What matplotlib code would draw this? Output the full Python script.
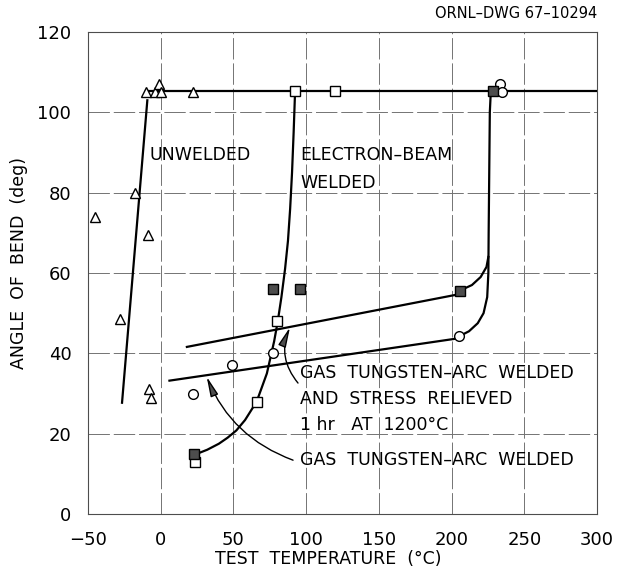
import matplotlib
matplotlib.use("Agg")
import matplotlib.pyplot as plt

plt.rcParams['font.family'] = ['DejaVu Sans']

# measured points
unwelded_t = [-45, -28, -18, -9, -8, -7, -10, -4, -1, 0, 22]
unwelded_a = [74, 48.5, 80, 69.5, 31, 29, 105, 105, 107, 105, 105]

ebw_t = [92, 120, 80, 66, 23.5]
ebw_a = [105.3, 105.3, 48, 28, 13]

gta_t = [22, 49, 77.5, 205, 233, 234.5]
gta_a = [30, 37, 40, 44.2, 107, 105]

gta_sr_t = [77.5, 95.5, 205.5, 23, 228.5]
gta_sr_a = [56, 56, 55.6, 15, 105.3]

# faired curves
top_t = [-10, 300]
top_a = [105.3, 105.3]

unw_fit_t = [-26.6, -9.2]
unw_fit_a = [27.7, 103]

ebw_fit_t = [25, 32, 40, 46, 52, 58, 66, 73, 78, 80.5, 83, 85.5, 87.5, 89, 90.3, 91.4, 92.4]
ebw_fit_a = [15, 16, 17.5, 19, 20.8, 23.4, 28, 35, 43, 48, 54, 61, 68, 76, 85, 95, 105.3]

gta_fit_t = [6, 202]
gta_fit_a = [33.2, 43.6]
gta_knee_t = [205, 212, 218, 222, 224.5, 225.3, 225.5, 226.3, 227]
gta_knee_a = [44.2, 45.5, 47.5, 50, 54, 60, 70, 100, 105.3]

gta_sr_fit_t = [18, 202]
gta_sr_fit_a = [41.6, 54.5]
gta_sr_knee_t = [205.5, 214, 220, 224, 225.3]
gta_sr_knee_a = [55.6, 57, 59, 61.5, 64]

fig = plt.figure(figsize=(6.17, 5.76), dpi=100)
ax = fig.add_axes([88 / 617, 62 / 576, 509 / 617, 482 / 576])

ax.set_xlim(-50, 300)
ax.set_ylim(0, 120)
ax.set_xticks(range(-50, 301, 50))
ax.set_yticks(range(0, 121, 20))
ax.tick_params(length=0, labelsize=13, pad=12)
ax.grid(True, color='0.45', lw=0.7, linestyle=(0, (22, 4)))
ax.set_axisbelow(True)
for s in ax.spines.values():
    s.set_linewidth(0.8)
    s.set_color('0.3')

line_kw = dict(color='black', lw=1.6, zorder=3)
ax.plot(top_t, top_a, **line_kw)
ax.plot(unw_fit_t, unw_fit_a, **line_kw)
ax.plot(ebw_fit_t, ebw_fit_a, **line_kw)
ax.plot(gta_fit_t, gta_fit_a, **line_kw)
ax.plot(gta_knee_t, gta_knee_a, **line_kw)
ax.plot(gta_sr_fit_t, gta_sr_fit_a, **line_kw)
ax.plot(gta_sr_knee_t, gta_sr_knee_a, **line_kw)

ax.plot(unwelded_t, unwelded_a, '^', ms=7.5, mfc='white', mec='black', mew=1.0, ls='none', zorder=4)
ax.plot(ebw_t, ebw_a, 's', ms=6.5, mfc='white', mec='black', mew=1.0, ls='none', zorder=4)
ax.plot(gta_t, gta_a, 'o', ms=7, mfc='white', mec='black', mew=1.0, ls='none', zorder=4)
ax.plot(gta_sr_t, gta_sr_a, 's', ms=6.5, mfc='0.3', mec='black', mew=1.0, ls='none', zorder=5)

lab = dict(fontsize=12.5, ha='left', va='center', zorder=6)
ax.text(-7.4, 89.4, 'UNWELDED', **lab)
ax.text(95.8, 89.5, 'ELECTRON–BEAM', **lab)
ax.text(95.8, 82.5, 'WELDED', **lab)
ax.text(95.8, 35, 'GAS  TUNGSTEN–ARC  WELDED', **lab)
ax.text(95.8, 28.6, 'AND  STRESS  RELIEVED', **lab)
ax.text(95.8, 22.2, '1 hr   AT  1200°C', **lab)
ax.text(95.8, 13.4, 'GAS  TUNGSTEN–ARC  WELDED', **lab)

arrow = dict(arrowstyle='-|>,head_length=1.0,head_width=0.2', lw=1.0,
             fc='0.3', ec='black', mutation_scale=12, shrinkA=0, shrinkB=0)
ax.annotate('', xy=(88.9, 46.5), xytext=(94.4, 32.6),
            arrowprops=dict(connectionstyle='arc3,rad=-0.3', **arrow))
ax.annotate('', xy=(31.6, 34.2), xytext=(91.0, 13.4),
            arrowprops=dict(connectionstyle='arc3,rad=-0.22', **arrow))

ax.set_xlabel('TEST  TEMPERATURE  (°C)', fontsize=12.5)
ax.xaxis.set_label_coords((328 - 88) / 509, -0.075)
ax.set_ylabel('ANGLE  OF  BEND  (deg)', fontsize=12.5)
ax.yaxis.set_label_coords(-0.118, 0.52)

fig.text(597 / 617, 1 - 13 / 576, 'ORNL–DWG 67–10294', fontsize=10.5,
         ha='right', va='center')

fig.savefig('out.png', dpi=100)
